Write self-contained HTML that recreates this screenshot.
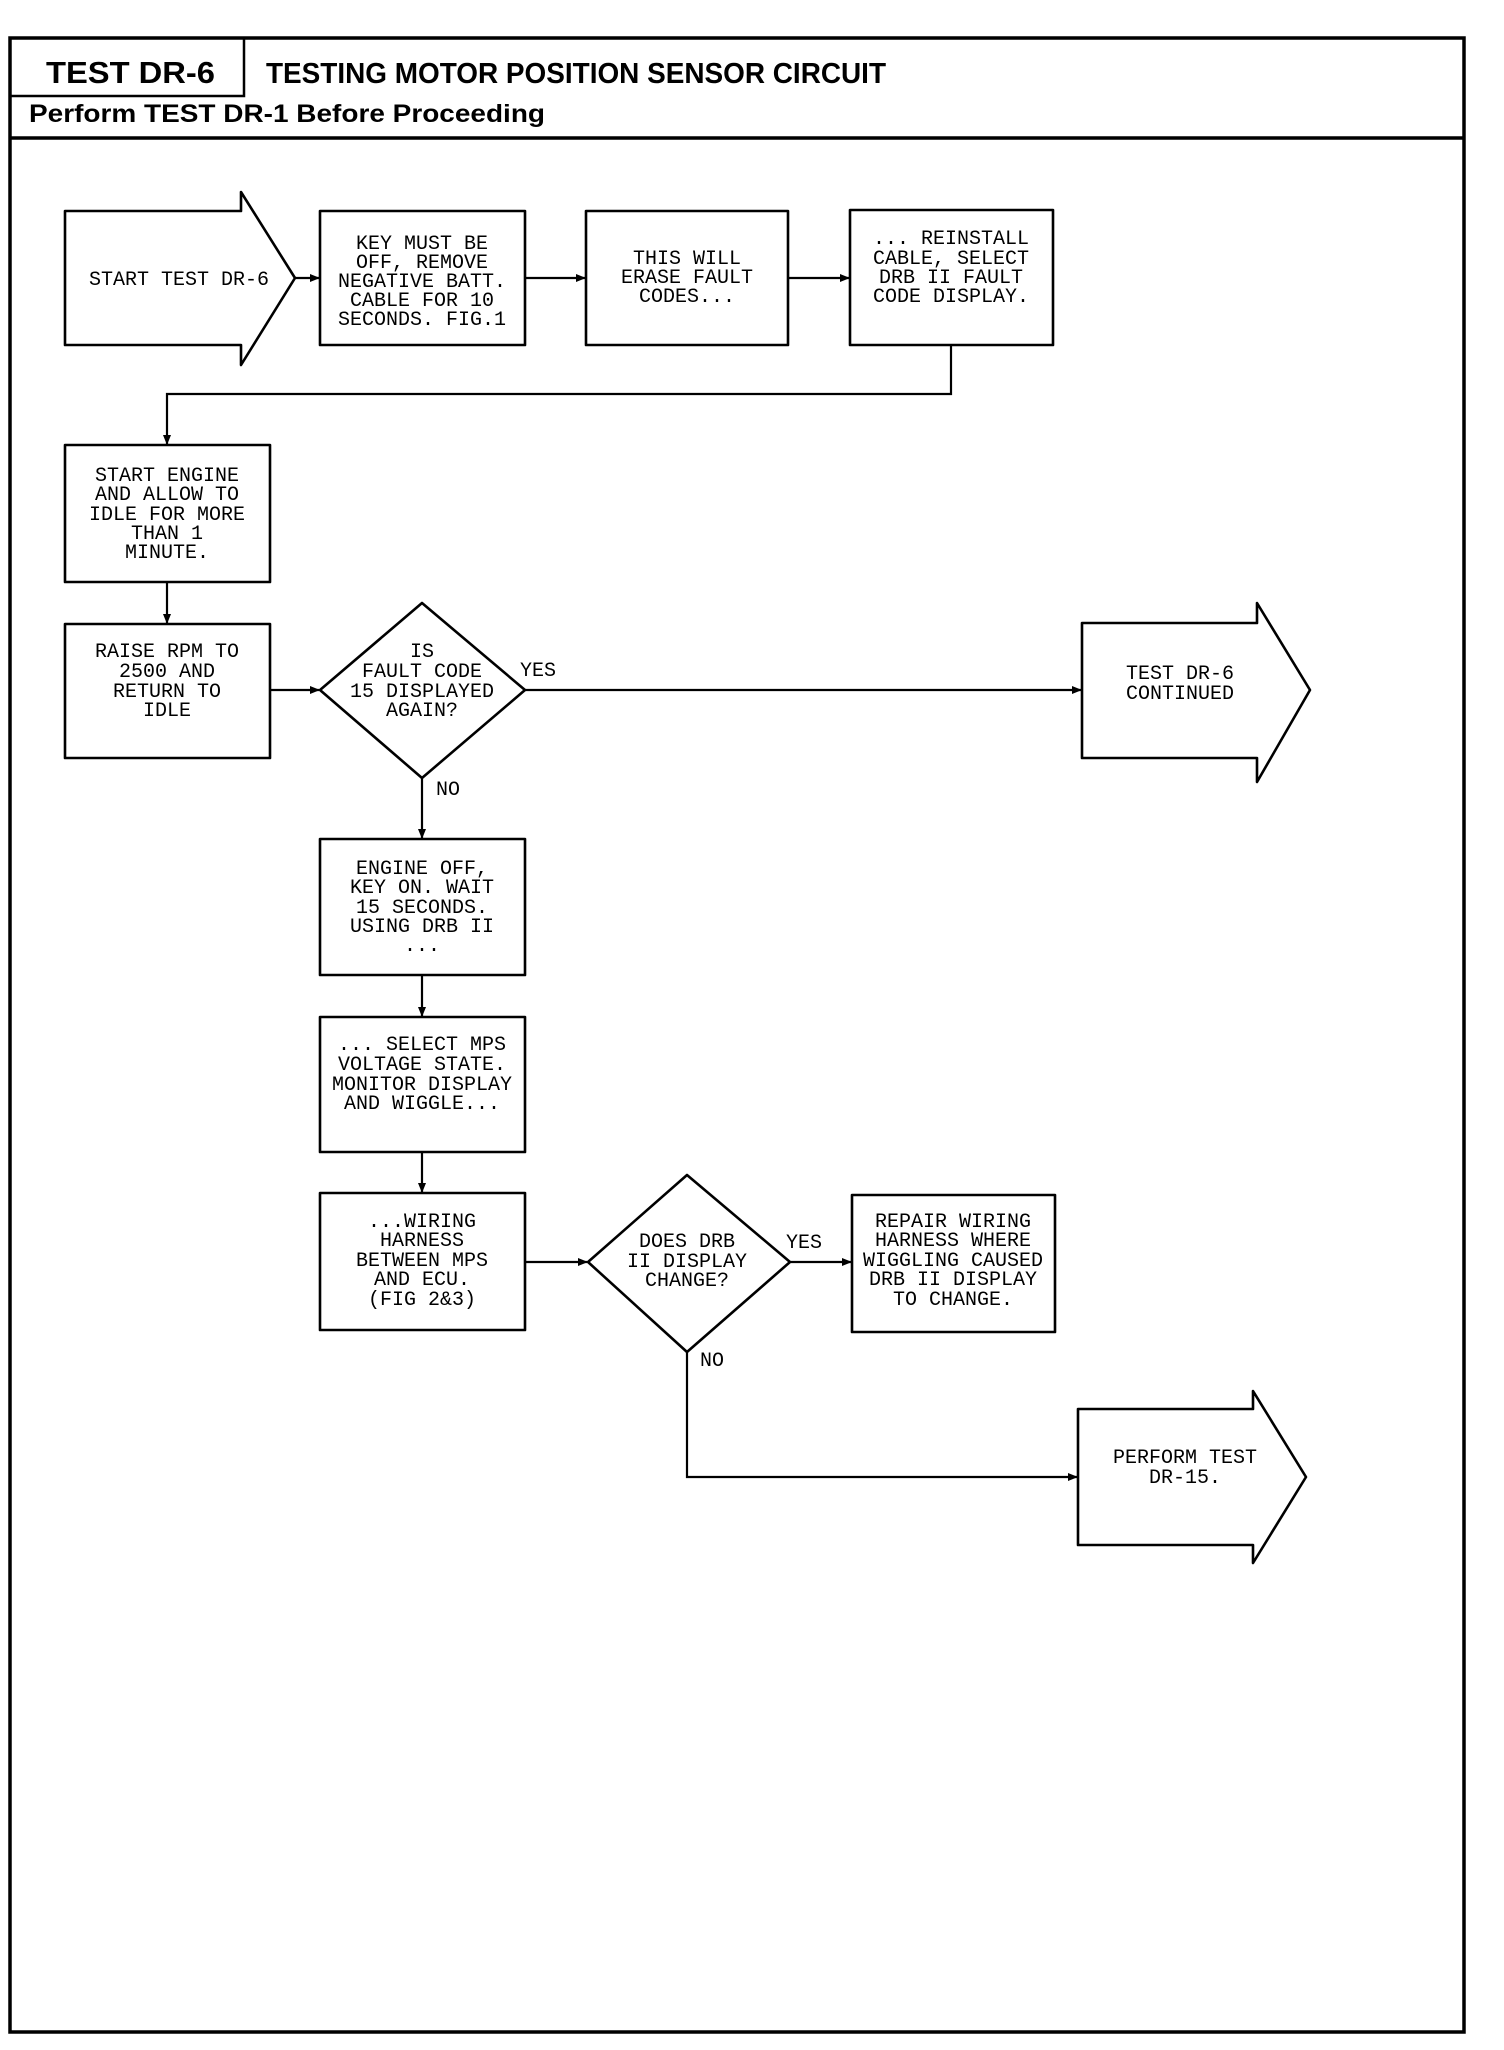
<!DOCTYPE html>
<html><head><meta charset="utf-8"><style>
html,body{margin:0;padding:0;background:#fff;}
svg{display:block;}
.t{font-family:"Liberation Mono",monospace;font-size:20px;fill:#000;}
.h{font-family:"Liberation Sans",sans-serif;font-weight:bold;fill:#000;}
</style></head><body>
<svg width="1504" height="2050" viewBox="0 0 1504 2050" xmlns="http://www.w3.org/2000/svg">
<defs>
<marker id="a" markerWidth="10" markerHeight="8" refX="9" refY="4" orient="auto" markerUnits="userSpaceOnUse">
<path d="M0,0 L10,4 L0,8 Z" fill="#000"/></marker>
</defs>
<g fill="none" stroke="#000">
<rect x="10" y="38" width="1454" height="1994" stroke-width="3.5"/>
<path d="M10,96 H244 V38" stroke-width="2.5"/>
<line x1="10" y1="138" x2="1464" y2="138" stroke-width="3.5"/>
</g>
<text class="h" x="46" y="83" font-size="31" textLength="169" lengthAdjust="spacingAndGlyphs">TEST DR-6</text>
<text class="h" x="266" y="83" font-size="29" textLength="620" lengthAdjust="spacingAndGlyphs">TESTING MOTOR POSITION SENSOR CIRCUIT</text>
<text class="h" x="29" y="122" font-size="25" textLength="516" lengthAdjust="spacingAndGlyphs">Perform TEST DR-1 Before Proceeding</text>

<g fill="none" stroke="#000" stroke-width="2.6" stroke-linejoin="round">
<!-- start arrow -->
<path d="M65,211 H241 V192 L295,278 L241,365 V345 H65 Z"/>
<rect x="320" y="211" width="205" height="134"/>
<rect x="586" y="211" width="202" height="134"/>
<rect x="850" y="210" width="203" height="135"/>
<rect x="65" y="445" width="205" height="137"/>
<rect x="65" y="624" width="205" height="134"/>
<path d="M422,603 L525,690 L422,778 L320,690 Z"/>
<path d="M1082,623 H1257 V603 L1310,690 L1257,782 V758 H1082 Z"/>
<rect x="320" y="839" width="205" height="136"/>
<rect x="320" y="1017" width="205" height="135"/>
<rect x="320" y="1193" width="205" height="137"/>
<path d="M687,1175 L790,1262 L687,1352 L588,1262 Z"/>
<rect x="852" y="1195" width="203" height="137"/>
<path d="M1078,1409 H1253 V1391 L1306,1477 L1253,1563 V1545 H1078 Z"/>
</g>
<g fill="none" stroke="#000" stroke-width="2.2">
<line x1="295" y1="278" x2="319" y2="278" marker-end="url(#a)"/>
<line x1="525" y1="278" x2="585" y2="278" marker-end="url(#a)"/>
<line x1="788" y1="278" x2="849" y2="278" marker-end="url(#a)"/>
<path d="M951,345 V394 H167 V444" marker-end="url(#a)"/>
<line x1="167" y1="582" x2="167" y2="623" marker-end="url(#a)"/>
<line x1="270" y1="690" x2="319" y2="690" marker-end="url(#a)"/>
<line x1="525" y1="690" x2="1081" y2="690" marker-end="url(#a)"/>
<line x1="422" y1="778" x2="422" y2="838" marker-end="url(#a)"/>
<line x1="422" y1="975" x2="422" y2="1016" marker-end="url(#a)"/>
<line x1="422" y1="1152" x2="422" y2="1192" marker-end="url(#a)"/>
<line x1="525" y1="1262" x2="587" y2="1262" marker-end="url(#a)"/>
<line x1="790" y1="1262" x2="851" y2="1262" marker-end="url(#a)"/>
<path d="M687,1352 V1477 H1077" marker-end="url(#a)"/>
</g>

<g class="t" text-anchor="middle">
<text x="179" y="285">START TEST DR-6</text>
<g transform="translate(0,0)">
<text x="422" y="249">KEY MUST BE</text>
<text x="422" y="268">OFF, REMOVE</text>
<text x="422" y="287">NEGATIVE BATT.</text>
<text x="422" y="306">CABLE FOR 10</text>
<text x="422" y="325">SECONDS. FIG.1</text>
</g>
<text x="687" y="264">THIS WILL</text>
<text x="687" y="283">ERASE FAULT</text>
<text x="687" y="302">CODES...</text>
<text x="951" y="244">... REINSTALL</text>
<text x="951" y="264">CABLE, SELECT</text>
<text x="951" y="283">DRB II FAULT</text>
<text x="951" y="302">CODE DISPLAY.</text>
<text x="167" y="481">START ENGINE</text>
<text x="167" y="500">AND ALLOW TO</text>
<text x="167" y="520">IDLE FOR MORE</text>
<text x="167" y="539">THAN 1</text>
<text x="167" y="558">MINUTE.</text>
<text x="167" y="657">RAISE RPM TO</text>
<text x="167" y="677">2500 AND</text>
<text x="167" y="697">RETURN TO</text>
<text x="167" y="716">IDLE</text>
<text x="422" y="657">IS</text>
<text x="422" y="677">FAULT CODE</text>
<text x="422" y="697">15 DISPLAYED</text>
<text x="422" y="716">AGAIN?</text>
<text x="1180" y="679">TEST DR-6</text>
<text x="1180" y="699">CONTINUED</text>
<text x="422" y="874">ENGINE OFF,</text>
<text x="422" y="893">KEY ON. WAIT</text>
<text x="422" y="913">15 SECONDS.</text>
<text x="422" y="932">USING DRB II</text>
<text x="422" y="951">...</text>
<text x="422" y="1050">... SELECT MPS</text>
<text x="422" y="1070">VOLTAGE STATE.</text>
<text x="422" y="1090">MONITOR DISPLAY</text>
<text x="422" y="1109">AND WIGGLE...</text>
<text x="422" y="1227">...WIRING</text>
<text x="422" y="1246">HARNESS</text>
<text x="422" y="1266">BETWEEN MPS</text>
<text x="422" y="1285">AND ECU.</text>
<text x="422" y="1305">(FIG 2&amp;3)</text>
<text x="687" y="1247">DOES DRB</text>
<text x="687" y="1267">II DISPLAY</text>
<text x="687" y="1286">CHANGE?</text>
<text x="953" y="1227">REPAIR WIRING</text>
<text x="953" y="1246">HARNESS WHERE</text>
<text x="953" y="1266">WIGGLING CAUSED</text>
<text x="953" y="1285">DRB II DISPLAY</text>
<text x="953" y="1305">TO CHANGE.</text>
<text x="1185" y="1463">PERFORM TEST</text>
<text x="1185" y="1483">DR-15.</text>
</g>
<g class="t">
<text x="520" y="676">YES</text>
<text x="436" y="795">NO</text>
<text x="786" y="1248">YES</text>
<text x="700" y="1366">NO</text>
</g>
</svg>
</body></html>
